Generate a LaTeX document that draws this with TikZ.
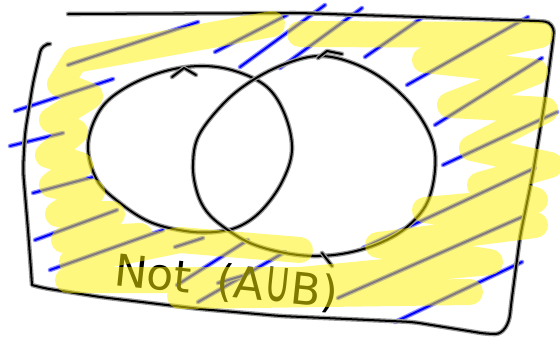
\documentclass[tikz,border=0pt]{standalone}
\usepackage{fontspec}
\newfontfamily\handfont{DejaVu Sans}
\tikzset{
  pen/.style={draw=black, line width=2pt, line cap=round, line join=round,
    preaction={draw=black!40, line width=4.6pt, line cap=round, line join=round}},
  hatch/.style={draw=blue, line width=2pt, line cap=round,
    preaction={draw=blue!45, line width=4.6pt, line cap=round}},
  marker/.style={draw=yellow, opacity=0.5, line width=26pt, line cap=round, line join=round},
  notlabel/.style={font=\handfont\fontsize{44}{44}\selectfont, text=black, inner sep=0pt}
}
\begin{document}
\begin{tikzpicture}[x=1pt, y=-1pt]
\fill[white] (0,0) rectangle (560,338);
\useasboundingbox (0,0) rectangle (560,338);

% hatching
\foreach \xa/\ya/\xb/\yb in {68/65/198/22, 15/111/113/79, 10/146/63/133,
    215/52/287/15, 240/67/325/5, 280/68/362/8, 365/57/423/17,
    407/85/528/17, 435/125/542/58, 443/165/557/112, 363/248/535/168,
    338/298/522/217, 395/322/522/262, 33/193/93/177, 35/240/117/210,
    50/270/163/230, 175/247/203/238, 177/285/248/240, 198/302/285/252,
    218/283/242/276}
  \draw[hatch] (\xa,\ya) -- (\xb,\yb);

% frame
\draw[pen, rounded corners=8pt] (68,14) -- (300,13) -- (537,21)
  .. controls (550,22) and (554,28) .. (553,40) -- (545,100) -- (533,173)
  -- (520,237) -- (511,305) .. controls (509,325) and (503,334) .. (487,334)
  -- (413,322) -- (280,316) -- (200,309) -- (100,297) -- (43,288)
  [sharp corners] -- (32,285) [rounded corners=8pt] -- (31,270) -- (28,230)
  -- (23,170) -- (25,133) -- (33,83) -- (42,44) -- (47,44);

% sets
\draw[pen] plot[smooth cycle, tension=0.6] coordinates {(88,145) (97,180)
  (120,203) (150,222) (185,231) (215,232) (240,226) (262,210) (282,182)
  (292,150) (285,115) (267,87) (235,71) (200,66) (162,72) (125,88) (100,110)};
\draw[pen] (172,77) -- (184,68) -- (196,75);
\draw[pen] plot[smooth cycle, tension=0.6] coordinates {(193,165) (199,135)
  (225,102) (253,80) (285,64) (318,56) (350,62) (383,79) (413,107) (432,140)
  (435,170) (427,203) (407,227) (380,243) (347,253) (313,256) (280,252)
  (250,243) (225,228) (207,212) (197,192)};
\draw[pen] (318,58) -- (327,51) -- (342,54);
\draw[pen] (322,253) -- (332,266);

\node[notlabel, rotate=-6, anchor=base west] (notunion) at (113,285)
  {Not\hspace{26pt}(A\scalebox{0.85}[1.35]{∪}B)};

% highlighter
\draw[marker]
  (272,24) -- (75,60) -- (60,84) -- (90,96) -- (52,120) -- (75,132)
  -- (48,155) -- (80,165) -- (52,185) -- (92,192) -- (58,214) -- (112,214)
  -- (64,240) -- (140,236) -- (72,262) -- (180,240) -- (300,250)
  (300,34) -- (540,35) -- (425,60) -- (535,72) -- (450,105) -- (545,110)
  -- (472,148) -- (550,165) -- (480,185) -- (535,200) -- (425,210)
  -- (535,225) -- (378,245) -- (490,262) -- (300,280) -- (68,280)
  (180,296) -- (470,292);
\end{tikzpicture}
\end{document}
